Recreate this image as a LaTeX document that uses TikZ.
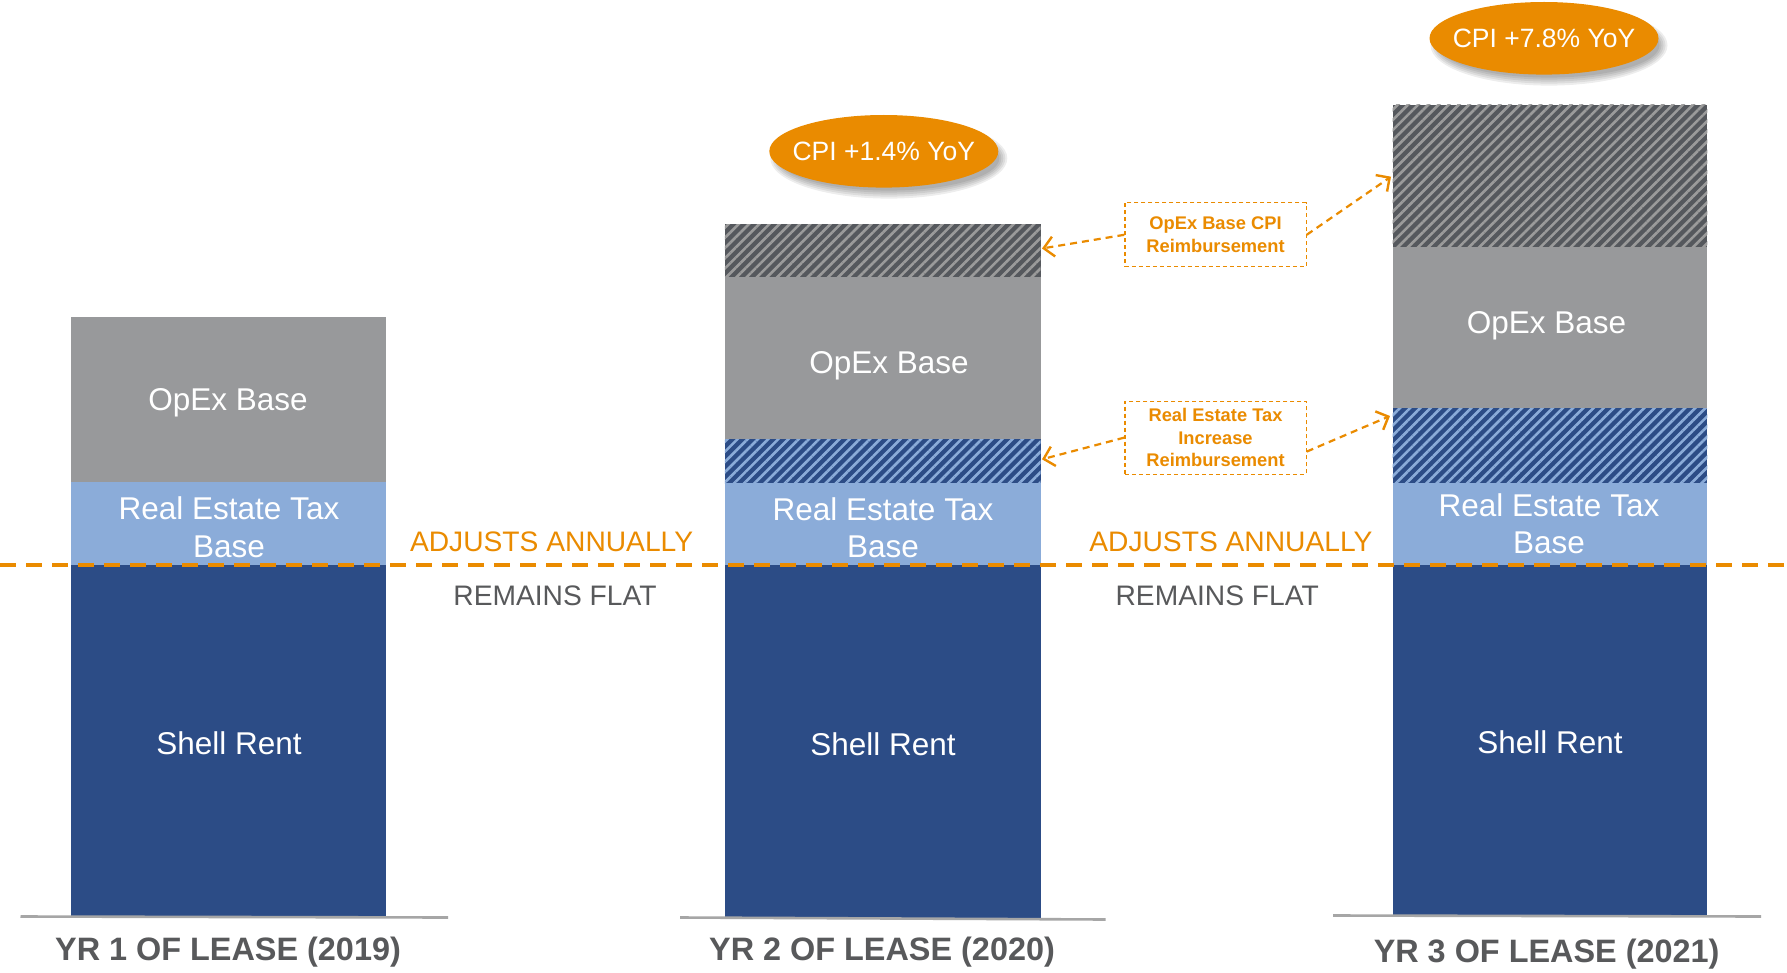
\documentclass[tikz,border=0pt]{standalone}
\usepackage{fontspec}
\setmainfont{Liberation Sans}
\usetikzlibrary{patterns.meta,arrows.meta}
\definecolor{navy}{HTML}{2C4C86}
\definecolor{ltblue}{HTML}{8BACD9}
\definecolor{opgray}{HTML}{98999B}
\definecolor{dkgray}{HTML}{55585D}
\definecolor{stripegray}{HTML}{9B9B9B}
\definecolor{orng}{HTML}{EA8B00}
\definecolor{txtgray}{HTML}{58595B}
\definecolor{basegray}{HTML}{A6A6A6}
\tikzset{
  bartext/.style={text=white,align=center,font=\fontsize{15.75}{18.8}\selectfont,inner sep=0pt},
  yearlabel/.style={text=txtgray,font=\bfseries\fontsize{16.2}{19}\selectfont,inner sep=0pt},
  adjtext/.style={text=orng,font=\fontsize{14.1}{17}\selectfont,inner sep=0pt},
  flattext/.style={text=txtgray,font=\fontsize{14.1}{17}\selectfont,inner sep=0pt},
  cpitext/.style={text=white,inner sep=0pt,font=\fontsize{13.25}{16}\selectfont},
  cpifill/.style={fill=orng},
  cpishadow/.style={fill=black,opacity=0.07},
  notebox/.style={draw=orng,line width=0.6pt,dash pattern=on 2pt off 1.5pt,text=orng,align=center,
    font=\bfseries\fontsize{9.15}{11.4}\selectfont,minimum width=90.6pt,minimum height=32pt,inner sep=0pt},
  notearrow/.style={draw=orng,line width=1.1pt,dash pattern=on 3.5pt off 2.5pt,
    -{Straight Barb[length=5pt,width=10pt,line width=1.2pt]}},
  baseline/.style={draw=basegray,line width=1.3pt},
  dkhatch/.style={pattern={Lines[angle=45,distance=3.6pt,line width=1.3pt]},pattern color=stripegray},
  bluehatch/.style={pattern={Lines[angle=45,distance=3.6pt,line width=1.3pt]},pattern color=ltblue},
}
\begin{document}
\begin{tikzpicture}[x=0.5pt,y=-0.5pt]
\useasboundingbox (0,0) rectangle (1787,973);
\fill[white] (0,0) rectangle (1787,973);

% ---- Bar 1
\fill[navy] (70.7,565.3) rectangle (386.4,916.3);
\fill[ltblue] (70.7,482.1) rectangle (386.4,565.3);
\fill[opgray] (70.7,316.8) rectangle (386.4,482.1);
\draw[baseline] (20.5,916.5) -- (448,917.5);

% ---- Bar 2
\fill[navy] (724.9,565.3) rectangle (1040.5,917.5);
\fill[ltblue] (724.9,483.2) rectangle (1040.5,565.3);
\fill[navy] (724.9,438.8) rectangle (1040.5,483.2);
\pattern[bluehatch] (724.9,438.8) rectangle (1040.5,483.2);
\fill[opgray] (724.9,276.9) rectangle (1040.5,438.8);
\fill[dkgray] (724.9,224.5) rectangle (1040.5,276.9);
\pattern[dkhatch] (724.9,224.5) rectangle (1040.5,276.9);
\draw[baseline] (680,917.5) -- (1105.5,919.5);

% ---- Bar 3
\fill[navy] (1392.7,565.3) rectangle (1707.3,915.2);
\fill[ltblue] (1392.7,483.2) rectangle (1707.3,565.3);
\fill[navy] (1392.7,408.0) rectangle (1707.3,483.2);
\pattern[bluehatch] (1392.7,408.0) rectangle (1707.3,483.2);
\fill[opgray] (1392.7,247.3) rectangle (1707.3,408.0);
\fill[dkgray] (1392.7,104.9) rectangle (1707.3,247.3);
\pattern[dkhatch] (1392.7,104.9) rectangle (1707.3,247.3);
\draw[baseline] (1333,915.5) -- (1761,916.5);

% ---- texts in bars
\node[bartext] (op1) at (228,402.5) {OpEx Base};
\node[bartext] (re1) at (229,527) {Real Estate Tax\\Base};
\node[bartext] (sh1) at (229,743) {Shell Rent};
\node[bartext] (op2) at (889,366) {OpEx Base};
\node[bartext] (re2) at (883,527.7) {Real Estate Tax\\Base};
\node[bartext] (sh2) at (883,744) {Shell Rent};
\node[bartext] (op3) at (1546.6,326) {OpEx Base};
\node[bartext] (re3) at (1549,523.7) {Real Estate Tax\\Base};
\node[bartext] (sh3) at (1550,742) {Shell Rent};

% ---- dashed divider
\coordinate (dl) at (0,565.3);
\coordinate (dr) at (1787,565.3);
\draw[orng,line width=2pt,dash pattern=on 8pt off 5pt] (dl) -- (dr);

\node[adjtext] (adj1) at (551.6,541.4) {ADJUSTS ANNUALLY};
\node[flattext] (flat1) at (555,596) {REMAINS FLAT};
\node[adjtext] (adj2) at (1230.9,541.4) {ADJUSTS ANNUALLY};
\node[flattext] (flat2) at (1217.2,596) {REMAINS FLAT};

% ---- year labels
\node[yearlabel] (y1) at (228,951.7) {YR 1 OF LEASE (2019)};
\node[yearlabel] (y2) at (882,951.7) {YR 2 OF LEASE (2020)};
\node[yearlabel] (y3) at (1546.6,954) {YR 3 OF LEASE (2021)};

% ---- CPI ellipses (soft shadow, fill, text)
\coordinate (c1) at (883.8,151.3);
\coordinate (c2) at (1544,38.3);
\foreach \c in {c1,c2}{
  \foreach \r in {0,2,4,6,8}{
    \fill[cpishadow] ([xshift=2.5pt,yshift=-3.5pt]\c) ellipse [x radius=114.5-\r+4, y radius=36.3-\r+4];
  }
  \fill[cpifill] (\c) ellipse [x radius=114.5, y radius=36.3];
}
\node[cpitext] (cpi1) at (c1) {CPI +1.4\% YoY};
\node[cpitext] (cpi2) at (c2) {CPI +7.8\% YoY};

% ---- note boxes
\node[notebox] (nb1) at (1215.5,234.8) {OpEx Base CPI\\Reimbursement};
\node[notebox,minimum height=36.5pt] (nb2) at (1215.5,437.6) {Real Estate Tax\\Increase\\Reimbursement};

\coordinate (t1l) at (1042,248.5);
\coordinate (t1r) at (1391,176.7);
\coordinate (t2l) at (1042,459.3);
\coordinate (t2r) at (1390,416);

\draw[notearrow] (nb1.west) -- (t1l);
\draw[notearrow] (nb1.east) -- (t1r);
\draw[notearrow] (nb2.west) -- (t2l);
\draw[notearrow] ([yshift=-7pt]nb2.east) -- (t2r);
\end{tikzpicture}
\end{document}
